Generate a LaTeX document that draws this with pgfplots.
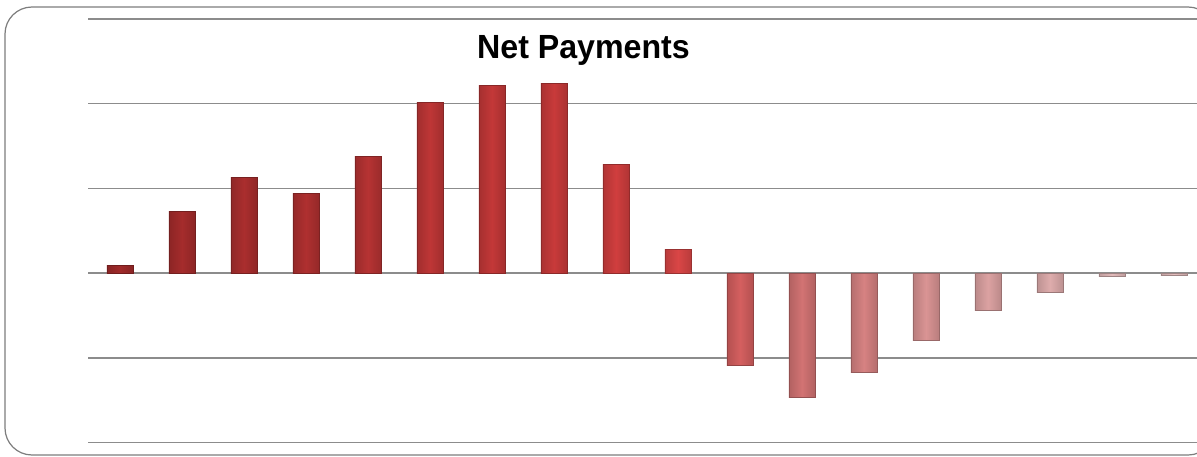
\documentclass[border=0pt]{standalone}
\usepackage{pgfplots}
\pgfplotsset{compat=1.18}
\usepackage{fontspec}
\setmainfont{Liberation Sans}
\newfontfamily\titlefont[FakeStretch=0.96]{Liberation Sans}
\definecolor{c1}{RGB}{160,42,42}
\definecolor{c2}{RGB}{165,44,44}
\definecolor{c3}{RGB}{170,46,46}
\definecolor{c4}{RGB}{175,48,48}
\definecolor{c5}{RGB}{182,51,51}
\definecolor{c6}{RGB}{190,54,54}
\definecolor{c7}{RGB}{195,56,56}
\definecolor{c8}{RGB}{200,58,58}
\definecolor{c9}{RGB}{208,62,62}
\definecolor{c10}{RGB}{218,70,70}
\definecolor{c11}{RGB}{212,95,95}
\definecolor{c12}{RGB}{210,115,115}
\definecolor{c13}{RGB}{214,130,130}
\definecolor{c14}{RGB}{218,148,148}
\definecolor{c15}{RGB}{220,162,162}
\definecolor{c16}{RGB}{222,172,172}
\definecolor{c17}{RGB}{226,186,186}
\definecolor{c18}{RGB}{228,190,190}
\definecolor{gridc}{RGB}{140,140,140}
\definecolor{framec}{RGB}{125,125,125}
\pgfplotsset{
  bevel/.style={draw=#1!70!black, line width=0.9pt,
    left color=#1!85!black, right color=#1!85!black, middle color=#1}
}
\begin{document}
\begin{tikzpicture}
\path[use as bounding box] (-88pt,-13.5pt) rectangle (1109pt,442.5pt);
\draw[framec, line width=1.2pt, rounded corners=27pt] (-83pt,-12.5pt) rectangle (1127pt,435.5pt);
\begin{axis}[
  at={(0pt,0pt)}, anchor=south west,
  scale only axis, width=1109pt, height=423.5pt,
  xmin=-0.516, xmax=17.371, ymin=-2, ymax=3,
  ybar, bar width=26pt, bar shift=0pt,
  axis line style={draw=none},
  xtick=\empty, ytick={-2,-1,0,1,2,3}, yticklabels={},
  major tick length=0pt,
  ymajorgrids, grid style={gridc, line width=1.6pt},
  clip=false,
]
\addplot[bevel=c1]  coordinates {(0,0.09)};
\addplot[bevel=c2]  coordinates {(1,0.73)};
\addplot[bevel=c3]  coordinates {(2,1.13)};
\addplot[bevel=c4]  coordinates {(3,0.94)};
\addplot[bevel=c5]  coordinates {(4,1.375)};
\addplot[bevel=c6]  coordinates {(5,2.01)};
\addplot[bevel=c7]  coordinates {(6,2.21)};
\addplot[bevel=c8]  coordinates {(7,2.24)};
\addplot[bevel=c9]  coordinates {(8,1.28)};
\addplot[bevel=c10] coordinates {(9,0.28)};
\addplot[bevel=c11] coordinates {(10,-1.09)};
\addplot[bevel=c12] coordinates {(11,-1.47)};
\addplot[bevel=c13] coordinates {(12,-1.17)};
\addplot[bevel=c14] coordinates {(13,-0.79)};
\addplot[bevel=c15] coordinates {(14,-0.44)};
\addplot[bevel=c16] coordinates {(15,-0.23)};
\addplot[bevel=c17] coordinates {(16,-0.04)};
\addplot[bevel=c18] coordinates {(17,-0.03)};
\end{axis}
\node[anchor=base, inner sep=0pt, font={\titlefont\bfseries\fontsize{33.5}{36}\selectfont}] at (495.5pt,383.5pt) {Net Payments};
\end{tikzpicture}
\end{document}
